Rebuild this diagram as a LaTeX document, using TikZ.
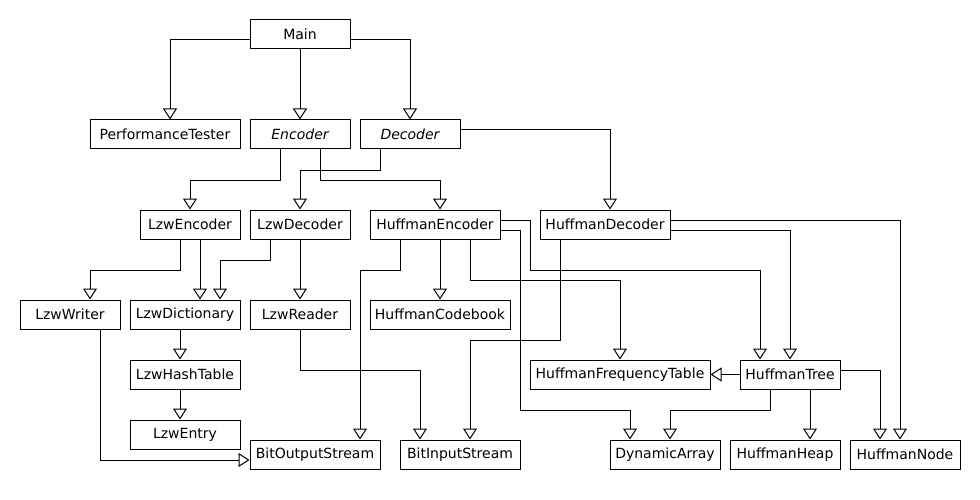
\documentclass[tikz,border=0pt]{standalone}
\usepackage{fontspec}
\setmainfont{DejaVu Sans}
\usetikzlibrary{arrows.meta, positioning, calc}

\begin{document}
\begin{tikzpicture}[x=1pt, y=-1pt, line width=1pt,
    every node/.style={font=\fontsize{14}{16}\selectfont},
    cls/.style={draw, minimum height=29pt, inner sep=0pt},
    inh/.style={-{Triangle[open, length=11pt, width=14pt]}}]
        \useasboundingbox (0,0) rectangle (980,500);
        \node[cls, minimum width=100pt] (main) at (300,34.5) {Main};
        \node[cls, minimum width=150pt] (perf) at (165,134.5) {PerformanceTester};
        \node[cls, minimum width=100pt] (enc) at (300,134.5) {\itshape Encoder};
        \node[cls, minimum width=100pt] (dec) at (410,134.5) {\itshape Decoder};
        \node[cls, minimum width=100pt] (lzwenc) at (190,224.5) {LzwEncoder};
        \node[cls, minimum width=100pt] (lzwdec) at (300,224.5) {LzwDecoder};
        \node[cls, minimum width=130pt] (hufenc) at (435,224.5) {HuffmanEncoder};
        \node[cls, minimum width=130pt] (hufdec) at (605,224.5) {HuffmanDecoder};
        \node[cls, minimum width=100pt] (lzwwri) at (70,314.5) {LzwWriter};
        \node[cls, minimum width=110pt] (lzwdict) at (185,314.5) {LzwDictionary};
        \node[cls, minimum width=100pt] (lzwread) at (300,314.5) {LzwReader};
        \node[cls, minimum width=140pt] (hufcode) at (440,314.5) {HuffmanCodebook};
        \node[cls, minimum width=110pt] (hash) at (185,374.5) {LzwHashTable};
        \node[cls, minimum width=110pt] (entry) at (185,434.5) {LzwEntry};
        \node[cls, minimum width=130pt] (bitout) at (315,454.5) {BitOutputStream};
        \node[cls, minimum width=120pt] (bitin) at (460,454.5) {BitInputStream};
        \node[cls, minimum width=180pt] (freq) at (620,374.5) {HuffmanFrequencyTable};
        \node[cls, minimum width=100pt] (tree) at (790,374.5) {HuffmanTree};
        \node[cls, minimum width=110pt] (dyn) at (665,454.5) {DynamicArray};
        \node[cls, minimum width=110pt] (heap) at (785,454.5) {HuffmanHeap};
        \node[cls, minimum width=110pt] (hnode) at (905,454.5) {HuffmanNode};
        \draw[inh] ([yshift=-5.5pt]main.west) -| ([xshift=5pt]perf.north);
        \draw[inh] (main) -- (enc);
        \draw[inh] ([yshift=-5.5pt]main.east) -| (dec.north);
        \draw[inh] ([yshift=4.5pt]dec.east) -| ([xshift=5pt]hufdec.north);
        \draw[inh] ([xshift=-20pt]enc.south) -- ++(0,31) -| (lzwenc.north);
        \draw[inh] ([xshift=20pt]enc.south) -- ++(0,31) -| ([xshift=5pt]hufenc.north);
        \draw[inh] ([xshift=-30pt]dec.south) -- ++(0,21) -| (lzwdec.north);
        \draw[inh] ([xshift=-10pt]lzwenc.south) -- ++(0,31) -| ([xshift=20pt]lzwwri.north);
        \draw[inh] ([xshift=10pt]lzwenc.south) -- ([xshift=15pt]lzwdict.north);
        \draw[inh] ([xshift=-30pt]lzwdec.south) -- ++(0,21) -| ([xshift=35pt]lzwdict.north);
        \draw[inh] (lzwdec) -- (lzwread);
        \draw[inh] ([xshift=-35pt]hufenc.south) -- ++(0,31) -| ([xshift=45pt]bitout.north);
        \draw[inh] ([xshift=5pt]hufenc.south) -- (hufcode.north);
        \draw[inh] ([xshift=35pt]hufenc.south) -- ++(0,41) -| (freq.north);
        \draw[inh] ([yshift=4.5pt]hufenc.east) -| ++(30,50) -| ([xshift=-30pt]tree.north);
        \draw[inh] ([yshift=-5.5pt]hufenc.east) -| ++(20,180) -| ([xshift=-35pt]dyn.north);
        \draw[inh] ([xshift=-45pt]hufdec.south) -- ++(0,101) -| ([xshift=10pt]bitin.north);
        \draw[inh] ([yshift=4.5pt]hufdec.east) -| ([xshift=-5pt]hnode.north);
        \draw[inh] ([yshift=-5.5pt]hufdec.east) -| (tree.north);
        \draw[inh] ([xshift=30pt]lzwwri.south) |- ([yshift=-5.5pt]bitout.west);
        \draw[inh] ([xshift=-5pt]lzwdict.south) -- ([xshift=-5pt]hash.north);
        \draw[inh] ([xshift=-5pt]hash.south) -- ([xshift=-5pt]entry.north);
        \draw[inh] (lzwread.south) -- ++(0,41) -| ([xshift=-40pt]bitin.north);
        \draw[inh] (tree) -- (freq);
        \draw[inh] ([xshift=-20pt]tree.south) -- ++(0,21) -| ([xshift=5pt]dyn.north);
        \draw[inh] ([xshift=20pt]tree.south) -- ([xshift=25pt]heap.north);
        \draw[inh] ([yshift=4.5pt]tree.east) -| ([xshift=-25pt]hnode.north);
      \end{tikzpicture}
\end{document}
